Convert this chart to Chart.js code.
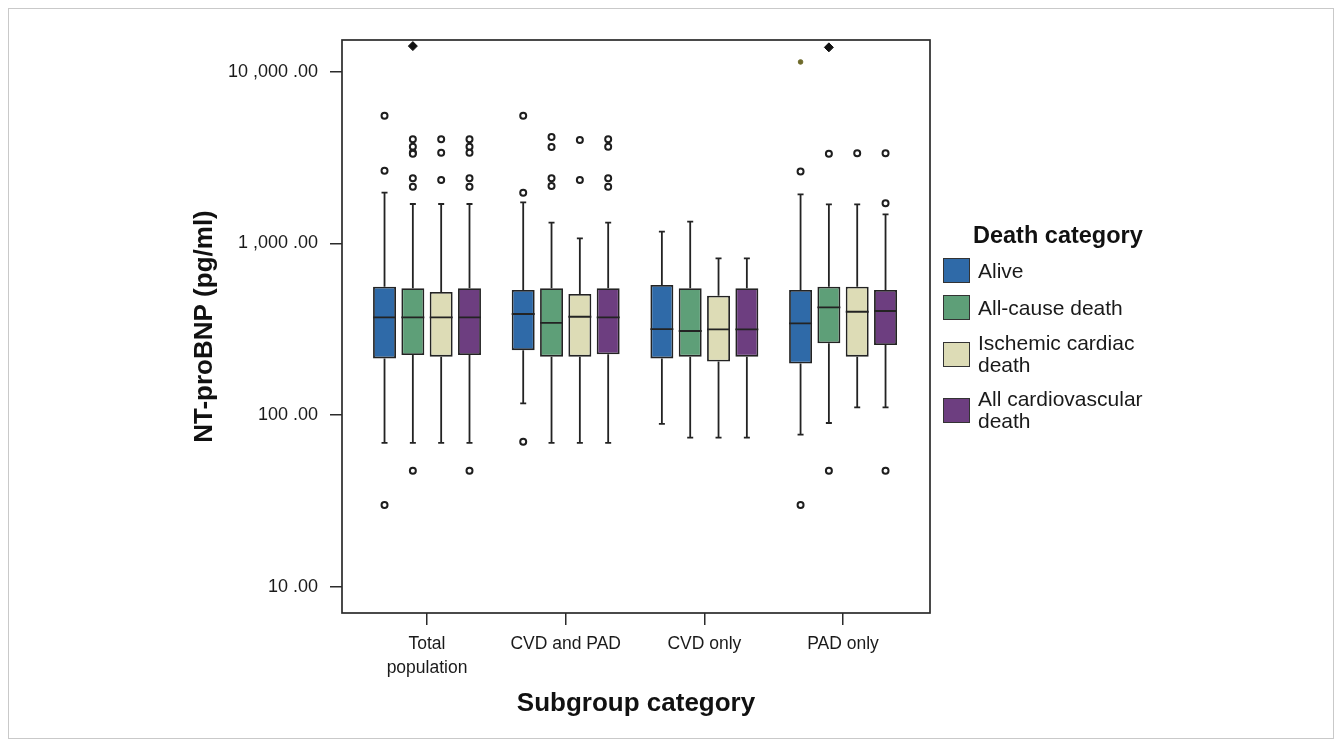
<!DOCTYPE html>
<html>
<head>
<meta charset="utf-8">
<title>NT-proBNP by subgroup and death category</title>
<script src="https://cdn.jsdelivr.net/npm/chart.js@4.4.0/dist/chart.umd.min.js"></script>
<style>
  html, body { margin: 0; padding: 0; background: #fff; }
  #wrap { position: relative; width: 1341px; height: 746px; overflow: hidden; }
  #frame { position: absolute; left: 8px; top: 8px; width: 1324px; height: 729px; border: 1px solid #c9c9c9; pointer-events: none; }
  #chart { position: absolute; left: 0; top: 0; }
  #legend { position: absolute; left: 943px; top: 222px; font-family: "Liberation Sans", Arial, Helvetica, sans-serif; color: #1a1a1a; }
  .lg-title { font-weight: bold; font-size: 23.5px; line-height: 27px; margin-left: 30px; white-space: nowrap; color: #111; }
  .lg-item { display: flex; align-items: center; margin-top: 12px; }
  .lg-item.first { margin-top: 9px; }
  .lg-swatch { width: 25px; height: 23px; border: 1.5px solid #333; flex: none; }
  .lg-label { margin-left: 8px; font-size: 21px; line-height: 22px; white-space: nowrap; }
</style>
</head>
<body>
<div id="wrap">
  <canvas id="chart" width="1341" height="746"></canvas>
  <div id="frame"></div>
  <div id="legend"></div>
</div>
<script>
// subgroups on the x axis
const categories = [["Total", "population"], "CVD and PAD", "CVD only", "PAD only"]

// death categories (one box per subgroup)
const seriesNames = ["Alive", "All-cause death", ["Ischemic cardiac", "death"], ["All cardiovascular", "death"]]

// box statistics, pg/ml
const whiskerLow = [
  [69, 117, 89, 77],
  [69, 69, 74, 90],
  [69, 69, 74, 111],
  [69, 69, 74, 111],
]
const quartile1 = [
  [214, 239, 214, 200],
  [224, 219, 219, 262],
  [219, 219, 205, 219],
  [224, 226, 219, 256],
]
const medians = [
  [371, 388, 317, 342],
  [371, 345, 309, 424],
  [371, 374, 316, 400],
  [371, 371, 316, 404],
]
const quartile3 = [
  [560, 535, 572, 535],
  [548, 548, 548, 560],
  [521, 507, 496, 560],
  [548, 548, 548, 535],
]
const whiskerHigh = [
  [1974, 1735, 1170, 1932],
  [1696, 1320, 1338, 1690],
  [1696, 1071, 819, 1690],
  [1696, 1320, 819, 1477],
]

// outliers (open markers) and extremes (filled markers)
const outliers = [
  [[5540, 2650, 30], [5540, 1975, 70], [], [2620, 30]],
  [[4040, 3660, 3375, 3330, 2394, 2139, 47.5], [4166, 3642, 2400, 2160], [], [3330, 47.5]],
  [[4040, 3375, 2340], [4000, 2340], [], [3350]],
  [[4040, 3660, 3375, 2394, 2139, 47.5], [4040, 3660, 2394, 2139], [], [3350, 1712, 47.5]],
]
const extremes = [
  [[], [], [], [11400]],
  [[14100], [], [], [13860]],
  [[], [], [], []],
  [[], [], [], []],
]

const yTickValues = [10, 100, 1000, 10000]
const yTickLabels = ["10 .00", "100 .00", "1 ,000 .00", "10 ,000 .00"]

const seriesColors = ["#2f6aa8", "#5e9f78", "#dddcb6", "#6d3e80"]
const inkColor = "#232323"
const categoryPct = 0.817
const barPct = 0.81

Chart.defaults.font.family = "'Liberation Sans', Arial, Helvetica, sans-serif"
Chart.defaults.color = "#1a1a1a"

const slot = categoryPct / seriesNames.length

const boxDatasets = seriesNames.map((name, s) => ({
  type: "bar",
  label: Array.isArray(name) ? name.join(" ") : name,
  data: categories.map((c, i) => ({ x: i, y: [quartile1[s][i], quartile3[s][i]] })),
  backgroundColor: seriesColors[s],
  borderColor: inkColor,
  borderWidth: 1.8,
  borderSkipped: false,
  categoryPercentage: categoryPct,
  barPercentage: barPct,
}))

function pointsFor(list, s) {
  const pts = []
  list[s].forEach((vals, i) => {
    vals.forEach((v) => pts.push({ x: i + (s - 1.5) * slot, y: v }))
  })
  return pts
}

const outlierDatasets = seriesNames.map((name, s) => ({
  type: "scatter",
  data: pointsFor(outliers, s),
  pointStyle: "circle",
  pointRadius: 3,
  pointBackgroundColor: "#ffffff",
  pointBorderColor: "#1e1e1e",
  pointBorderWidth: 2,
}))

const extremeDatasets = seriesNames.map((name, s) => ({
  type: "scatter",
  data: pointsFor(extremes, s),
  pointStyle: s === 0 ? "circle" : "rectRot",
  pointRadius: s === 0 ? 2.3 : 4.5,
  pointBackgroundColor: s === 0 ? "#6e6a2a" : "#111111",
  pointBorderColor: s === 0 ? "#6e6a2a" : "#111111",
  pointBorderWidth: 1,
}))

// whiskers, caps, medians and the plot frame
const boxPlotPlugin = {
  id: "boxPlot",
  afterDatasetsDraw(chart) {
    const ctx = chart.ctx
    const yScale = chart.scales.y
    ctx.save()
    ctx.strokeStyle = inkColor
    ctx.lineWidth = 1.8
    seriesNames.forEach((name, s) => {
      chart.getDatasetMeta(s).data.forEach((bar, i) => {
        const half = bar.width / 2
        const yLo = yScale.getPixelForValue(whiskerLow[s][i])
        const yQ1 = yScale.getPixelForValue(quartile1[s][i])
        const yMed = yScale.getPixelForValue(medians[s][i])
        const yQ3 = yScale.getPixelForValue(quartile3[s][i])
        const yHi = yScale.getPixelForValue(whiskerHigh[s][i])
        ctx.beginPath()
        ctx.moveTo(bar.x, yQ3)
        ctx.lineTo(bar.x, yHi)
        ctx.moveTo(bar.x, yQ1)
        ctx.lineTo(bar.x, yLo)
        ctx.moveTo(bar.x - 3, yHi)
        ctx.lineTo(bar.x + 3, yHi)
        ctx.moveTo(bar.x - 3, yLo)
        ctx.lineTo(bar.x + 3, yLo)
        ctx.moveTo(bar.x - half, yMed)
        ctx.lineTo(bar.x + half, yMed)
        ctx.stroke()
      })
    })
    const a = chart.chartArea
    ctx.lineWidth = 1.7
    ctx.strokeStyle = "#2b2b2b"
    ctx.strokeRect(a.left, a.top, a.right - a.left, a.bottom - a.top)
    ctx.restore()
  },
}

new Chart(document.getElementById("chart"), {
  type: "bar",
  data: {
    datasets: [...boxDatasets, ...outlierDatasets, ...extremeDatasets],
  },
  options: {
    responsive: false,
    animation: false,
    events: [],
    layout: {
      padding: { left: 185, top: 40, right: 411, bottom: 23 },
    },
    plugins: {
      legend: { display: false },
      tooltip: { enabled: false },
    },
    scales: {
      x: {
        type: "linear",
        min: -0.613,
        max: 3.627,
        bounds: "data",
        offset: false,
        afterBuildTicks: (scale) => {
          scale.ticks = categories.map((c, i) => ({ value: i }))
        },
        afterFit: (scale) => {
          scale.height = 110
        },
        ticks: {
          autoSkip: false,
          maxRotation: 0,
          padding: 7,
          color: "#1a1a1a",
          font: { size: 17.5, lineHeight: 1.37 },
          callback: (value) => categories[value],
        },
        grid: {
          offset: false,
          drawOnChartArea: false,
          drawTicks: true,
          tickLength: 12,
          color: "#2b2b2b",
          lineWidth: 1.5,
        },
        border: { display: false },
        title: {
          display: true,
          text: "Subgroup category",
          color: "#111",
          font: { size: 26, weight: "bold" },
          padding: { top: 4, bottom: 4 },
        },
      },
      y: {
        type: "logarithmic",
        min: 7.04,
        max: 15300,
        bounds: "data",
        afterBuildTicks: (scale) => {
          scale.ticks = yTickValues.map((v) => ({ value: v }))
        },
        afterFit: (scale) => {
          scale.width = 157
        },
        ticks: {
          padding: 12,
          color: "#1a1a1a",
          font: { size: 18 },
          callback: (value) => yTickLabels[yTickValues.indexOf(value)],
        },
        grid: {
          drawOnChartArea: false,
          drawTicks: true,
          tickLength: 12,
          color: "#2b2b2b",
          lineWidth: 1.5,
        },
        border: { display: false },
        title: {
          display: true,
          text: "NT-proBNP (pg/ml)",
          color: "#111",
          font: { size: 26, weight: "bold" },
          padding: { top: 4, bottom: 4 },
        },
      },
    },
  },
  plugins: [boxPlotPlugin],
})

// legend, built from the same series list
const legend = document.getElementById("legend")
legend.innerHTML =
  `<div class="lg-title">Death category</div>` +
  seriesNames
    .map(
      (name, s) => `
    <div class="lg-item${s === 0 ? " first" : ""}">
      <span class="lg-swatch" style="background:${seriesColors[s]}"></span>
      <span class="lg-label">${Array.isArray(name) ? name.join("<br>") : name}</span>
    </div>`,
    )
    .join("")
</script>
</body>
</html>
